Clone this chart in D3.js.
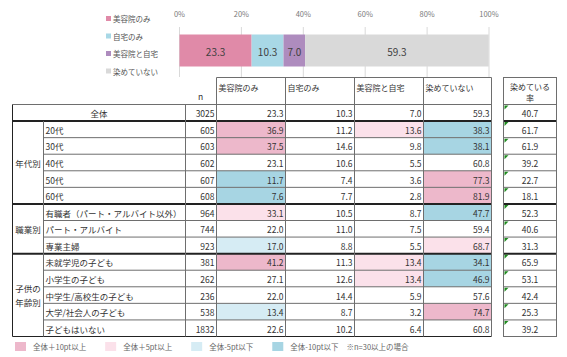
<!DOCTYPE html>
<html><head><meta charset="utf-8">
<script src="https://cdn.jsdelivr.net/npm/d3@7/dist/d3.min.js"></script>
<style>
body{margin:0;background:#fff;}
svg{display:block;font-family:"Noto Sans CJK JP","Noto Sans",sans-serif;}
</style></head>
<body><svg id="chart" width="567" height="357"></svg>
<script>
// ---------- data ----------
const categories = ["美容院のみ", "自宅のみ", "美容院と自宅", "染めていない"];
const totalValues = [23.3, 10.3, 7.0, 59.3];
const tickLabels = ["0%", "20%", "40%", "60%", "80%", "100%"];
const tickValues = [0, 20, 40, 60, 80, 100];
const rowLabels = ["全体", "20代", "30代", "40代", "50代", "60代",
  "有職者（パート・アルバイト以外）", "パート・アルバイト", "専業主婦",
  "未就学児の子ども", "小学生の子ども", "中学生/高校生の子ども", "大学/社会人の子ども", "子どもはいない"];
const groupNames = [["年代別"], ["職業別"], ["子供の", "年齢別"]];
const groupStarts = [1, 6, 9];
const groupEnds = [5, 8, 13];
const nValues = [3025, 605, 603, 602, 607, 608, 964, 744, 923, 381, 262, 236, 538, 1832];
const salonOnly = [23.3, 36.9, 37.5, 23.1, 11.7, 7.6, 33.1, 22.0, 17.0, 41.2, 27.1, 22.0, 13.4, 22.6];
const homeOnly = [10.3, 11.2, 14.6, 10.6, 7.4, 7.7, 10.5, 11.0, 8.8, 11.3, 12.6, 14.4, 8.7, 10.2];
const salonAndHome = [7.0, 13.6, 9.8, 5.5, 3.6, 2.8, 8.7, 7.5, 5.5, 13.4, 13.4, 5.9, 3.2, 6.4];
const notDyed = [59.3, 38.3, 38.1, 60.8, 77.3, 81.9, 47.7, 59.4, 68.7, 34.1, 46.9, 57.6, 74.7, 60.8];
const dyedRate = [40.7, 61.7, 61.9, 39.2, 22.7, 18.1, 52.3, 40.6, 31.3, 65.9, 53.1, 42.4, 25.3, 39.2];
const rateHeader = ["染めている", "率"];
const legendLabels = ["全体＋10pt以上", "全体＋5pt以上", "全体-5pt以下", "全体-10pt以下"];
const noteText = "※n=30以上の場合";

// ---------- styles ----------
const barColors = ["#E08AA8", "#A8D8E6", "#AE8CBE", "#D9D9D9"];
const hiliteColors = ["#EDB8CB", "#FBE1EA", "#D6ECF4", "#A7D5E3"];
const lineC = "#6e6e6e", thickC = "#222";

const svg = d3.select("#chart");

// ---------- top stacked bar ----------
const x = d3.scaleLinear().domain([0, 100]).range([179.5, 489]);
svg.append("g").selectAll("line").data(tickValues).join("line")
  .attr("x1", d => x(d)).attr("x2", d => x(d)).attr("y1", 27).attr("y2", 77)
  .attr("stroke", "#d9d9d9").attr("stroke-width", 1);
svg.append("g").selectAll("text").data(tickValues).join("text")
  .attr("x", d => x(d)).attr("y", 17).attr("text-anchor", "middle")
  .attr("font-size", 7.5).attr("fill", "#7a7a7a").text((d, i) => tickLabels[i]);

const stackStart = totalValues.map((v, i) => d3.sum(totalValues.slice(0, i)));
const barG = svg.append("g");
barG.selectAll("rect").data(totalValues).join("rect")
  .attr("x", (d, i) => x(stackStart[i])).attr("width", d => x(d) - x(0))
  .attr("y", 34.5).attr("height", 32).attr("fill", (d, i) => barColors[i]);
barG.selectAll("text").data(totalValues).join("text")
  .attr("x", (d, i) => x(stackStart[i] + d / 2)).attr("y", 51)
  .attr("text-anchor", "middle").attr("dominant-baseline", "central")
  .attr("font-size", 10).attr("fill", "#404040").text(d => d.toFixed(1));

// top legend
const legY = d3.scalePoint().domain(categories).range([18.5, 71]);
const lg = svg.append("g");
lg.selectAll("rect").data(categories).join("rect")
  .attr("x", 106).attr("y", d => legY(d) - 2.5).attr("width", 5).attr("height", 5)
  .attr("fill", (d, i) => barColors[i]);
lg.selectAll("text").data(categories).join("text")
  .attr("x", 113).attr("y", d => legY(d)).attr("dominant-baseline", "central")
  .attr("font-size", 7.5).attr("fill", "#555").text(d => d);

// ---------- table ----------
const colEdges = [216.5, 285.5, 354.5, 423.5, 491.5];
const xLeft = 12.5, xGroup = 43.5, xN = 185.5;
const rateL = 503.5, rateR = 556.5;
const headTop = 77.5, headBot = 104.5, tableBot = 336.5;
const y = d3.scaleBand().domain(d3.range(rowLabels.length)).range([headBot, tableBot]);
const cols = [salonOnly, homeOnly, salonAndHome, notDyed];

function hilite(v, base) {
  const d = v - base;
  if (d >= 10) return hiliteColors[0];
  if (d >= 5) return hiliteColors[1];
  if (d <= -10) return hiliteColors[3];
  if (d <= -5) return hiliteColors[2];
  return null;
}
const tg = svg.append("g");
cols.forEach((arr, c) => {
  tg.append("g").selectAll("rect").data(arr.map((v, i) => ({v, i})).filter(d => d.i > 0 && hilite(d.v, arr[0])))
    .join("rect")
    .attr("x", colEdges[c]).attr("width", colEdges[c + 1] - colEdges[c])
    .attr("y", d => y(d.i)).attr("height", y.bandwidth())
    .attr("fill", d => hilite(d.v, arr[0]));
});

tg.append("g").selectAll("text").data(categories).join("text")
  .attr("x", (d, i) => colEdges[i] + 2).attr("y", 91)
  .attr("font-size", 8).attr("fill", "#333").text(d => d);
tg.append("text").attr("x", xN + 15).attr("y", 100).attr("text-anchor", "middle")
  .attr("font-size", 8.5).attr("fill", "#333").text("n");

const L = tg.append("g").attr("fill", "none");
function hl(x1, x2, yy, c, w) { L.append("line").attr("x1", x1).attr("x2", x2).attr("y1", yy).attr("y2", yy).attr("stroke", c).attr("stroke-width", w); }
function vl(xx, y1, y2, c, w) { L.append("line").attr("x1", xx).attr("x2", xx).attr("y1", y1).attr("y2", y2).attr("stroke", c).attr("stroke-width", w); }
hl(colEdges[0], colEdges[4], headTop, lineC, 1);
hl(xLeft, colEdges[4], headBot, lineC, 1);
const thickRows = [0, groupEnds[0], groupEnds[1]];
d3.range(rowLabels.length).forEach(i => {
  const yb = y(i) + y.bandwidth();
  if (thickRows.includes(i)) hl(xLeft, colEdges[4], yb, thickC, 2);
  else if (i === rowLabels.length - 1) hl(xLeft, colEdges[4], yb, thickC, 1);
  else hl(xGroup, colEdges[4], yb, lineC, 1);
});
vl(xLeft, headBot, tableBot, thickC, 1);
vl(xGroup, y(1), tableBot, lineC, 1);
vl(xN, headBot, tableBot, lineC, 1);
colEdges.forEach(e => vl(e, headTop, tableBot, lineC, 1));

tg.append("text").attr("x", (xLeft + xN) / 2).attr("y", y(0) + y.bandwidth() / 2 + 0.5)
  .attr("text-anchor", "middle").attr("dominant-baseline", "central")
  .attr("font-size", 8.5).attr("fill", "#333").text(rowLabels[0]);
tg.append("g").selectAll("text").data(rowLabels.slice(1)).join("text")
  .attr("x", xGroup + 2).attr("y", (d, i) => y(i + 1) + y.bandwidth() / 2 + 0.5)
  .attr("dominant-baseline", "central").attr("font-size", 8.5).attr("fill", "#333").text(d => d);
groupNames.forEach((g, gi) => {
  const cy = (y(groupStarts[gi]) + y(groupEnds[gi]) + y.bandwidth()) / 2;
  g.forEach((t, k) => {
    tg.append("text").attr("x", (xLeft + xGroup) / 2).attr("y", cy + (k - (g.length - 1) / 2) * 14)
      .attr("text-anchor", "middle").attr("dominant-baseline", "central")
      .attr("font-size", 8.5).attr("fill", "#333").text(t);
  });
});
tg.append("g").selectAll("text").data(nValues).join("text")
  .attr("x", colEdges[0] - 2).attr("y", (d, i) => y(i) + y.bandwidth() / 2 + 0.5)
  .attr("text-anchor", "end").attr("dominant-baseline", "central")
  .attr("font-size", 8.5).attr("fill", "#333").text(d => d);
cols.forEach((arr, c) => {
  tg.append("g").selectAll("text").data(arr).join("text")
    .attr("x", colEdges[c + 1] - 2).attr("y", (d, i) => y(i) + y.bandwidth() / 2 + 0.5)
    .attr("text-anchor", "end").attr("dominant-baseline", "central")
    .attr("font-size", 8.5).attr("fill", "#333").text(d => d.toFixed(1));
});

// rate column
const rg = svg.append("g");
rg.append("rect").attr("x", rateL).attr("y", headTop).attr("width", rateR - rateL).attr("height", tableBot - headTop)
  .attr("fill", "none").attr("stroke", lineC);
rateHeader.forEach((t, k) => rg.append("text").attr("x", (rateL + rateR) / 2).attr("y", 86 + k * 11)
  .attr("text-anchor", "middle").attr("dominant-baseline", "central").attr("font-size", 8).attr("fill", "#333").text(t));
hl(rateL, rateR, headBot, lineC, 1);
d3.range(rowLabels.length - 1).forEach(i => {
  const yb = y(i) + y.bandwidth();
  if (thickRows.includes(i)) hl(rateL, rateR, yb, thickC, 2);
  else hl(rateL, rateR, yb, lineC, 1);
});
rg.append("g").selectAll("path").data(dyedRate).join("path")
  .attr("d", (d, i) => `M${rateL + 1},${y(i) + 1}h4l-4,4z`).attr("fill", "#1f8a1f");
rg.append("g").selectAll("text").data(dyedRate).join("text")
  .attr("x", (rateL + rateR) / 2).attr("y", (d, i) => y(i) + y.bandwidth() / 2 + 0.5)
  .attr("text-anchor", "middle").attr("dominant-baseline", "central")
  .attr("font-size", 8.5).attr("fill", "#333").text(d => d.toFixed(1));

// bottom legend (flow layout)
const bl = svg.append("g");
let cx = 15;
legendLabels.forEach((lab, i) => {
  bl.append("rect").attr("x", cx).attr("y", 342).attr("width", 11).attr("height", 9).attr("fill", hiliteColors[i]);
  const t = bl.append("text").attr("x", cx + 18).attr("y", 346.5).attr("dominant-baseline", "central")
    .attr("font-size", 7.5).attr("fill", "#666").text(lab);
  cx = cx + 18 + t.node().getComputedTextLength() + (i < legendLabels.length - 1 ? 19 : 8);
});
bl.append("text").attr("x", cx).attr("y", 346.5).attr("dominant-baseline", "central")
  .attr("font-size", 7.5).attr("fill", "#666").text(noteText);
</script></body></html>
